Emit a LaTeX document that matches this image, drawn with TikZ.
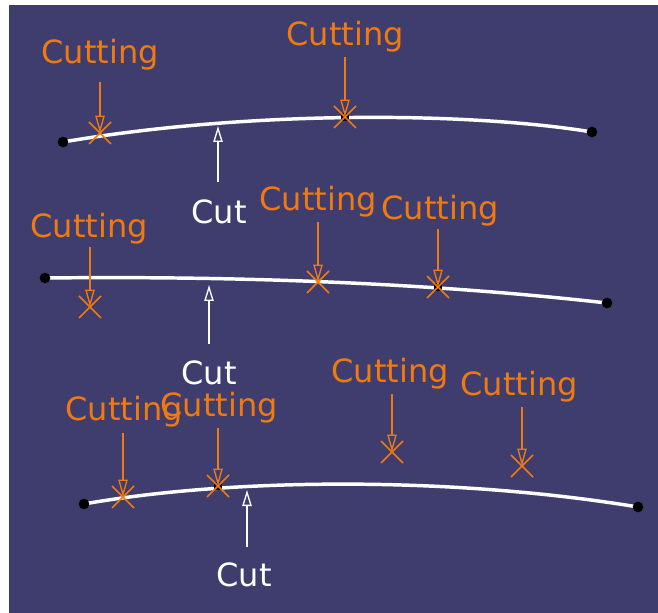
\documentclass[tikz,border=0pt]{standalone}
\usepackage{fontspec}
\setmainfont{DejaVu Sans}
\usetikzlibrary{arrows.meta,calc}
\definecolor{bgblue}{RGB}{62,61,110}
\definecolor{cutorange}{RGB}{240,122,16}
\begin{document}
\begin{tikzpicture}[x=0.75pt,y=-0.75pt,
  lbl/.style={font=\fontsize{24}{28}\selectfont, inner sep=0pt},
  cutlbl/.style={lbl, text=cutorange},
  whitelbl/.style={lbl, text=white},
  curveline/.style={draw=white, line width=2.6pt, line cap=round},
  endptdot/.style={fill=black},
  oarrow/.style={draw=cutorange, line width=1.3pt, -{Triangle[open, length=13pt, width=7pt, line width=1pt]}},
  warrow/.style={draw=white, line width=1.3pt, -{Triangle[open, length=12pt, width=7pt, line width=1pt]}},
  xmark/.style={draw=cutorange, line width=1.2pt},
]
\useasboundingbox (0,0) rectangle (658,613);
\fill[white] (0,0) rectangle (658,613);
\fill[bgblue] (9,5) rectangle (658,613);

% ---- curves ----
\draw[curveline] (63,142) .. controls (250,110) and (470,112) .. (592,132);
\draw[curveline] (45,278) .. controls (230,276) and (420,282) .. (607,303);
\draw[curveline] (84,504) .. controls (230,478) and (450,476) .. (638,507);

% endpoints
\foreach \p in {(63,142),(592,132),(45,278),(607,303),(84,504),(638,507)}
  \fill[endptdot] \p circle (4pt);

% ---- cutting points ----
\coordinate (x1) at (100,133);
\coordinate (x2) at (345,117);
\coordinate (x3) at (90,307);
\coordinate (x4) at (318,282);
\coordinate (x5) at (438,287);
\coordinate (x6) at (123,497);
\coordinate (x7) at (218,486);
\coordinate (x8) at (392,452);
\coordinate (x9) at (522,466);

% black dots where cut lies on an element
\foreach \c in {x2,x5,x7}
  \fill[black] ($(\c)+(-4,-4)$) rectangle ($(\c)+(4,4)$);

% X marks
\foreach \c in {x1,x2,x3,x4,x5,x6,x7,x8,x9} {
  \draw[xmark] ($(\c)+(-11,-11)$) -- ($(\c)+(11,11)$);
  \draw[xmark] ($(\c)+(-11,11)$) -- ($(\c)+(11,-11)$);
}

% ---- labels ----
\node[cutlbl] (l1) at (100,55) {Cutting};
\node[cutlbl] (l2) at (345,37) {Cutting};
\node[cutlbl] (l3) at (89,229) {Cutting};
\node[cutlbl] (l4) at (318,202) {Cutting};
\node[cutlbl] (l5) at (440,211) {Cutting};
\node[cutlbl] (l6) at (124,412) {Cutting};
\node[cutlbl] (l7) at (219,408) {Cutting};
\node[cutlbl] (l8) at (390,374) {Cutting};
\node[cutlbl] (l9) at (519,387) {Cutting};

\node[whitelbl] (c1) at (219,212) {Cut};
\node[whitelbl] (c2) at (209,373) {Cut};
\node[whitelbl] (c3) at (244,575) {Cut};

% ---- orange arrows ----
\coordinate (a1) at (100,82);
\coordinate (a2) at (345,57);
\coordinate (a3) at (90,247);
\coordinate (a4) at (318,222);
\coordinate (a5) at (438,229);
\coordinate (a6) at (123,433);
\coordinate (a7) at (218,428);
\coordinate (a8) at (392,394);
\coordinate (a9) at (522,407);
\foreach \i in {1,...,9}
  \draw[oarrow] (a\i) -- (x\i);

% ---- white arrows ----
\coordinate (w1) at (218,182);
\coordinate (t1) at (218,126);
\coordinate (w2) at (209,344);
\coordinate (t2) at (209,285);
\coordinate (w3) at (247,547);
\coordinate (t3) at (247,490);
\draw[warrow] (w1) -- (t1);
\draw[warrow] (w2) -- (t2);
\draw[warrow] (w3) -- (t3);
\end{tikzpicture}
\end{document}
